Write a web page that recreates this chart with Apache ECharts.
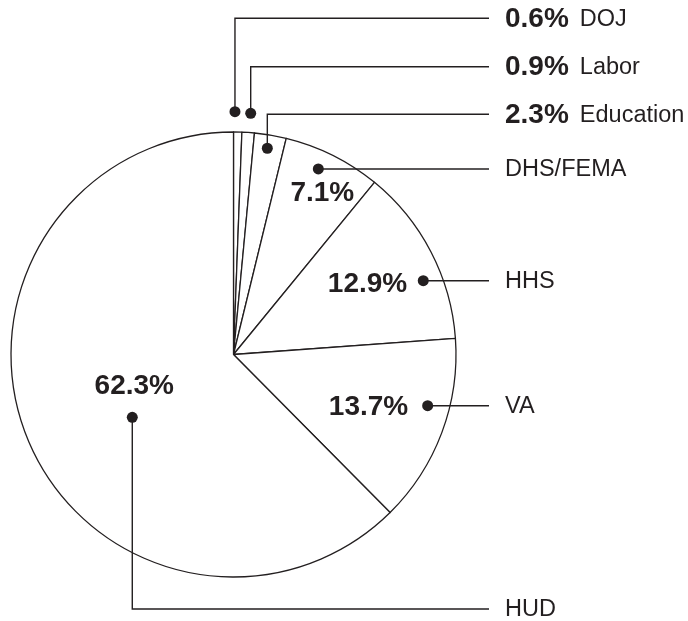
<!DOCTYPE html>
<html>
<head>
<meta charset="utf-8">
<script src="https://cdn.jsdelivr.net/npm/echarts@6/dist/echarts.min.js"></script>
<style>
html,body{margin:0;padding:0;background:#fff;}
#main{width:688px;height:621px;}
</style>
</head>
<body>
<div id="main"></div>
<script>
// ---- data ----
const names = ['DOJ', 'Labor', 'Education', 'DHS/FEMA', 'HHS', 'VA', 'HUD'];
const shares = [0.6, 0.9, 2.3, 7.1, 12.9, 13.7, 62.3];
const pctLabels = ['0.6%', '0.9%', '2.3%', '7.1%', '12.9%', '13.7%', '62.3%'];

// ---- layout (styling only) ----
const CX = 233.5, CY = 354.5, R = 222.5;
const INK = '#231f20';
const FONT = '"Liberation Sans", Arial, Helvetica, sans-serif';
const dotFrac = [0.16, 0.59, 0.47, 0.424, 0.6325, 0.383, 0.458]; // position across slice
const dotRad = [242.8, 241.8, 209, 204, 203.6, 200.8, 119.1];
const rowY = [18.3, 66.7, 114.3, null, null, null, 609];
const lineEndX = 489, textX = 505;
const pctInside = [null, null, null, [4, 24, 'center'], [-16, 3.5, 'right'], [-19.4, 2, 'right'], [2, -31, 'center']];

const chart = echarts.init(document.getElementById('main'), null, {renderer: 'canvas'});

const total = shares.reduce((a, b) => a + b, 0);
const graphics = [];
let cum = 0;
shares.forEach((v, i) => {
  const a0 = cum / total * 360;
  const span = v / total * 360;
  cum += v;
  const a = (a0 + dotFrac[i] * span) * Math.PI / 180;
  const dx = CX + dotRad[i] * Math.sin(a);
  const dy = CY - dotRad[i] * Math.cos(a);
  const ly = rowY[i] == null ? dy : rowY[i];
  const pts = rowY[i] == null ? [[dx, dy], [lineEndX, dy]] : [[dx, dy], [dx, ly], [lineEndX, ly]];
  graphics.push({
    type: 'polyline', silent: true, z: 10,
    shape: {points: pts},
    style: {stroke: INK, lineWidth: 1.4, fill: null}
  });
  graphics.push({
    type: 'circle', silent: true, z: 11,
    shape: {cx: dx, cy: dy, r: 5.5},
    style: {fill: INK}
  });
  if (pctInside[i]) {
    const o = pctInside[i];
    graphics.push({
      type: 'text', silent: true, z: 12,
      style: {
        x: dx + o[0], y: dy + o[1],
        text: pctLabels[i],
        font: 'bold 28px ' + FONT,
        fill: INK, align: o[2], verticalAlign: 'middle'
      }
    });
    graphics.push({
      type: 'text', silent: true, z: 12,
      style: {
        x: textX, y: ly + 1,
        text: names[i],
        font: '23.5px ' + FONT,
        fill: INK, align: 'left', verticalAlign: 'middle'
      }
    });
  } else {
    graphics.push({
      type: 'text', silent: true, z: 12,
      style: {
        x: textX, y: ly + 1,
        text: '{p|' + pctLabels[i] + '}{n|' + names[i] + '}',
        fill: INK, align: 'left', verticalAlign: 'middle',
        rich: {
          p: {fontWeight: 'bold', fontSize: 28, fontFamily: FONT, fill: INK},
          n: {fontSize: 23.5, fontFamily: FONT, fill: INK, padding: [0, 0, 0, 11]}
        }
      }
    });
  }
});

chart.setOption({
  animation: false,
  backgroundColor: '#fff',
  series: [{
    type: 'pie',
    center: [CX, CY],
    radius: [0, R],
    startAngle: 90,
    clockwise: true,
    minAngle: 0,
    avoidLabelOverlap: false,
    silent: true,
    label: {show: false},
    labelLine: {show: false},
    emphasis: {disabled: true},
    itemStyle: {color: '#fff', borderColor: INK, borderWidth: 1.3},
    data: names.map((n, i) => ({name: n, value: shares[i]}))
  }],
  graphic: graphics
});
</script>
</body>
</html>
